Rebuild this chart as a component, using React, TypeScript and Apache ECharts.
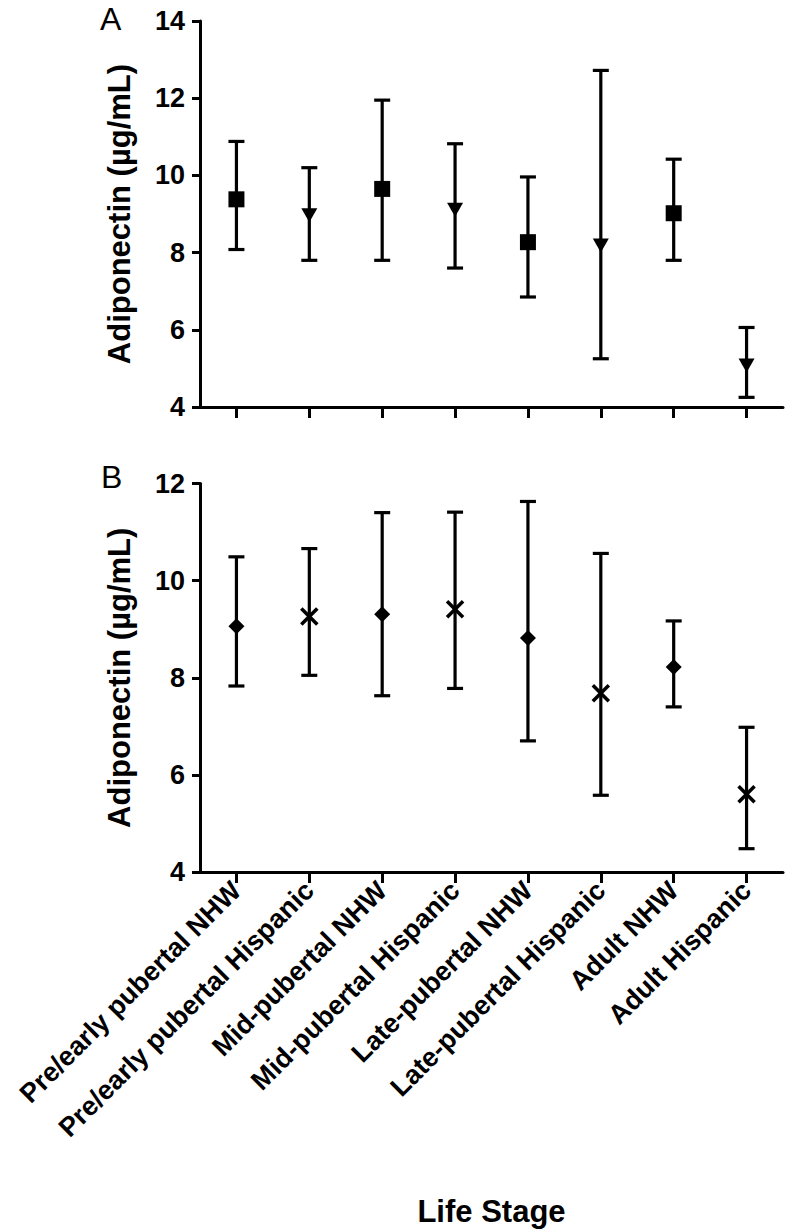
import React, { useEffect, useRef } from "react";
import * as echarts from "echarts";

const categories = [
  "Pre/early pubertal NHW",
  "Pre/early pubertal Hispanic",
  "Mid-pubertal NHW",
  "Mid-pubertal Hispanic",
  "Late-pubertal NHW",
  "Late-pubertal Hispanic",
  "Adult NHW",
  "Adult Hispanic",
];

// Panel A
const aMean = [9.38, 8.98, 9.65, 9.12, 8.27, 8.2, 9.02, 5.09];
const aLower = [8.08, 7.8, 7.8, 7.6, 6.85, 5.25, 7.8, 4.25];
const aUpper = [10.88, 10.2, 11.95, 10.82, 9.96, 12.72, 10.42, 6.06];

// Panel B
const bMean = [9.06, 9.26, 9.31, 9.41, 8.82, 7.68, 8.22, 5.6];
const bLower = [7.83, 8.05, 7.63, 7.78, 6.7, 5.58, 7.4, 4.48];
const bUpper = [10.49, 10.66, 11.4, 11.41, 11.63, 10.56, 9.17, 6.98];

const yTicksA = [4, 6, 8, 10, 12, 14];
const yTicksB = [4, 6, 8, 10, 12];

const yTitle = "Adiponectin (µg/mL)";
const xTitle = "Life Stage";

const FONT = "'Liberation Sans', Arial, Helvetica, sans-serif";
const BLACK = "#000000";

type Shape = "square" | "triangle" | "diamond" | "cross";

function makeRender(shapes: Shape[]) {
  return (params: any, api: any) => {
    const idx = api.value(0);
    const mean = api.value(1);
    const lo = api.value(2);
    const hi = api.value(3);
    const pm = api.coord([idx, mean]);
    const pl = api.coord([idx, lo]);
    const ph = api.coord([idx, hi]);
    const x = pm[0];
    const y = pm[1];
    const cap = 8;
    const lw = 3.2;
    const children: any[] = [
      { type: "line", shape: { x1: x, y1: pl[1], x2: x, y2: ph[1] }, style: { stroke: BLACK, lineWidth: lw } },
      { type: "line", shape: { x1: x - cap, y1: pl[1], x2: x + cap, y2: pl[1] }, style: { stroke: BLACK, lineWidth: lw } },
      { type: "line", shape: { x1: x - cap, y1: ph[1], x2: x + cap, y2: ph[1] }, style: { stroke: BLACK, lineWidth: lw } },
    ];
    const shape = shapes[params.dataIndex];
    if (shape === "square") {
      children.push({ type: "rect", shape: { x: x - 8, y: y - 8, width: 16, height: 16 }, style: { fill: BLACK } });
    } else if (shape === "triangle") {
      children.push({
        type: "polygon",
        shape: { points: [[x - 8, y - 6.5], [x + 8, y - 6.5], [x, y + 7.5]] },
        style: { fill: BLACK },
      });
    } else if (shape === "diamond") {
      children.push({
        type: "polygon",
        shape: { points: [[x, y - 8], [x + 8, y], [x, y + 8], [x - 8, y]] },
        style: { fill: BLACK },
      });
    } else {
      const s = 8;
      children.push({ type: "line", shape: { x1: x - s, y1: y - s, x2: x + s, y2: y + s }, style: { stroke: BLACK, lineWidth: 3.5 } });
      children.push({ type: "line", shape: { x1: x - s, y1: y + s, x2: x + s, y2: y - s }, style: { stroke: BLACK, lineWidth: 3.5 } });
    }
    return { type: "group", children };
  };
}

export default function App() {
  const ref = useRef<HTMLDivElement>(null);

  useEffect(() => {
    if (!ref.current) return;
    const chart = echarts.init(ref.current, null, { renderer: "svg" });

    const dataA = categories.map((_, i) => [i, aMean[i], aLower[i], aUpper[i]]);
    const dataB = categories.map((_, i) => [i, bMean[i], bLower[i], bUpper[i]]);
    const shapesA: Shape[] = categories.map((c) => (c.includes("NHW") ? "square" : "triangle"));
    const shapesB: Shape[] = categories.map((c) => (c.includes("NHW") ? "diamond" : "cross"));

    const axisLine = { show: true, lineStyle: { color: BLACK, width: 3 } };
    const xTick = { show: true, interval: 0, alignWithLabel: true, length: 11, lineStyle: { color: BLACK, width: 3 } };
    const yLabel = {
      color: BLACK,
      fontSize: 27,
      fontWeight: "bold" as const,
      fontFamily: FONT,
      margin: 15,
    };
    const yName = {
      color: BLACK,
      fontSize: 31,
      fontWeight: "bold" as const,
      fontFamily: FONT,
    };
    const xName = {
      color: BLACK,
      fontSize: 31,
      fontWeight: "bold" as const,
      fontFamily: FONT,
    };

    chart.setOption({
      animation: false,
      backgroundColor: "#ffffff",
      grid: [
        { left: 200, top: 21, width: 583, height: 386 },
        { left: 200, top: 483.5, width: 583, height: 388.5 },
      ],
      xAxis: [
        {
          type: "category",
          gridIndex: 0,
          data: categories,
          boundaryGap: true,
          axisLine,
          axisTick: xTick,
          axisLabel: { show: false, interval: 0 },
          splitLine: { show: false },
        },
        {
          type: "category",
          gridIndex: 1,
          data: categories,
          boundaryGap: true,
          axisLine,
          axisTick: xTick,
          axisLabel: {
            show: true,
            interval: 0,
            rotate: 45,
            color: BLACK,
            fontSize: 27,
            fontWeight: "bold",
            fontFamily: FONT,
            margin: 14,
          },
          splitLine: { show: false },
          name: xTitle,
          nameLocation: "middle",
          nameGap: 324,
          nameTextStyle: xName,
        },
      ],
      yAxis: [
        {
          type: "value",
          gridIndex: 0,
          min: yTicksA[0],
          max: yTicksA[yTicksA.length - 1],
          interval: 2,
          axisLine,
          axisTick: { show: true, length: 8, lineStyle: { color: BLACK, width: 3 } },
          axisLabel: yLabel,
          splitLine: { show: false },
          name: yTitle,
          nameLocation: "middle",
          nameGap: 65,
          nameTextStyle: yName,
        },
        {
          type: "value",
          gridIndex: 1,
          min: yTicksB[0],
          max: yTicksB[yTicksB.length - 1],
          interval: 2,
          axisLine,
          axisTick: { show: true, length: 8, lineStyle: { color: BLACK, width: 3 } },
          axisLabel: yLabel,
          splitLine: { show: false },
          name: yTitle,
          nameLocation: "middle",
          nameGap: 65,
          nameTextStyle: yName,
        },
      ],
      series: [
        {
          type: "custom",
          xAxisIndex: 0,
          yAxisIndex: 0,
          data: dataA,
          encode: { x: 0, y: [1, 2, 3] },
          renderItem: makeRender(shapesA),
          clip: false,
        },
        {
          type: "custom",
          xAxisIndex: 1,
          yAxisIndex: 1,
          data: dataB,
          encode: { x: 0, y: [1, 2, 3] },
          renderItem: makeRender(shapesB),
          clip: false,
        },
      ],
      graphic: [
        {
          type: "text",
          left: 100,
          top: 3,
          style: { text: "A", fontSize: 32, fontFamily: FONT, fill: BLACK },
        },
        {
          type: "text",
          left: 101,
          top: 461,
          style: { text: "B", fontSize: 32, fontFamily: FONT, fill: BLACK },
        },
      ],
    });

    return () => chart.dispose();
  }, []);

  return (
    <div
      ref={ref}
      style={{ position: "absolute", left: 0, top: 0, width: 788, height: 1231, background: "#fff" }}
    />
  );
}
